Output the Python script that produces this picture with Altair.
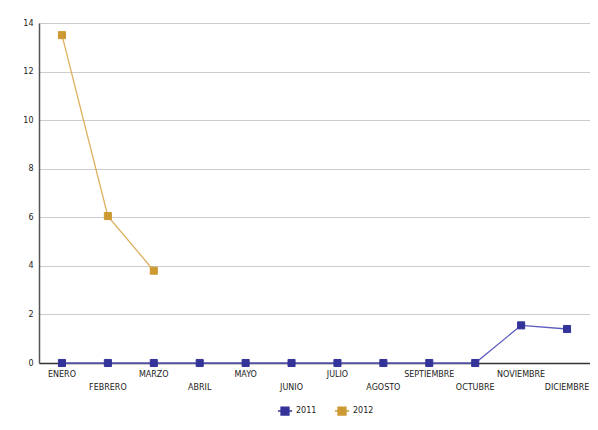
import altair as alt
import pandas as pd

months = ["ENERO", "FEBRERO", "MARZO", "ABRIL", "MAYO", "JUNIO", "JULIO",
          "AGOSTO", "SEPTIEMBRE", "OCTUBRE", "NOVIEMBRE", "DICIEMBRE"]
values_2011 = [0, 0, 0, 0, 0, 0, 0, 0, 0, 0, 1.55, 1.4]
values_2012 = [13.5, 6.05, 3.8]
series = ["2011", "2012"]
point_colors = ["#333399", "#cc9933"]
line_colors = ["#5c5cbf", "#e0ae5c"]

rows = []
for m, v in zip(months, values_2011):
    rows.append({"mes": m, "valor": v, "serie": "2011"})
for m, v in zip(months, values_2012):
    rows.append({"mes": m, "valor": v, "serie": "2012"})
df = pd.DataFrame(rows)
labels_df = pd.DataFrame({"mes": months, "idx": list(range(len(months)))})

W, H = 551, 340
FONT = "DejaVu Sans"

x = alt.X("mes:N", scale=alt.Scale(domain=months, padding=0.5),
          axis=alt.Axis(labels=False, ticks=False, title=None, domainColor="#333333",
                        domainWidth=1.5, grid=False))
y = alt.Y("valor:Q", scale=alt.Scale(domain=[0, 14]),
          axis=alt.Axis(values=[0, 2, 4, 6, 8, 10, 12, 14], title=None, ticks=False,
                        labelPadding=6, labelFontSize=8, labelFont=FONT, labelColor="#222222",
                        domainColor="#555555", domainWidth=1.5, gridColor="#cccccc",
                        labelFlush=False))

lines = alt.Chart(df).mark_line(strokeWidth=1.3).encode(
    x=x, y=y,
    color=alt.Color("serie:N", scale=alt.Scale(domain=series, range=line_colors), legend=None),
    detail="serie:N",
)

legend_symbol = "M-1,0H1M-0.55,-0.55H0.55V0.55H-0.55Z"
leg = alt.Legend(title=None, orient="none", direction="horizontal",
                 legendX=238, legendY=380, symbolType=legend_symbol,
                 symbolSize=200, symbolStrokeWidth=1.5,
                 labelFontSize=8, labelFont=FONT, labelColor="#222222",
                 columnPadding=14, labelOffset=3)
pscale = alt.Scale(domain=series, range=point_colors)
points = alt.Chart(df).mark_point(shape="square", filled=True, size=50, opacity=1,
                                  strokeWidth=1).encode(
    x=x, y=y,
    fill=alt.Fill("serie:N", scale=pscale, legend=leg),
    stroke=alt.Stroke("serie:N", scale=pscale, legend=leg),
)

row1 = alt.Chart(labels_df).transform_filter("datum.idx % 2 == 0").mark_text(
    fontSize=8, font=FONT, color="#222222", baseline="middle").encode(
    x=alt.X("mes:N", scale=alt.Scale(domain=months, padding=0.5)), y=alt.value(H + 12), text="mes:N")
row2 = alt.Chart(labels_df).transform_filter("datum.idx % 2 == 1").mark_text(
    fontSize=8, font=FONT, color="#222222", baseline="middle").encode(
    x=alt.X("mes:N", scale=alt.Scale(domain=months, padding=0.5)), y=alt.value(H + 25), text="mes:N")

chart = alt.layer(lines, points, row1, row2).resolve_scale(color="independent").properties(
    width=W, height=H,
    autosize=alt.AutoSizeParams(type="none"),
    padding={"left": 31, "top": 15, "right": 0, "bottom": 55},
).configure_view(stroke=None).configure(background="white")

chart.save("out.html", embed_options={"renderer": "svg", "actions": False})
